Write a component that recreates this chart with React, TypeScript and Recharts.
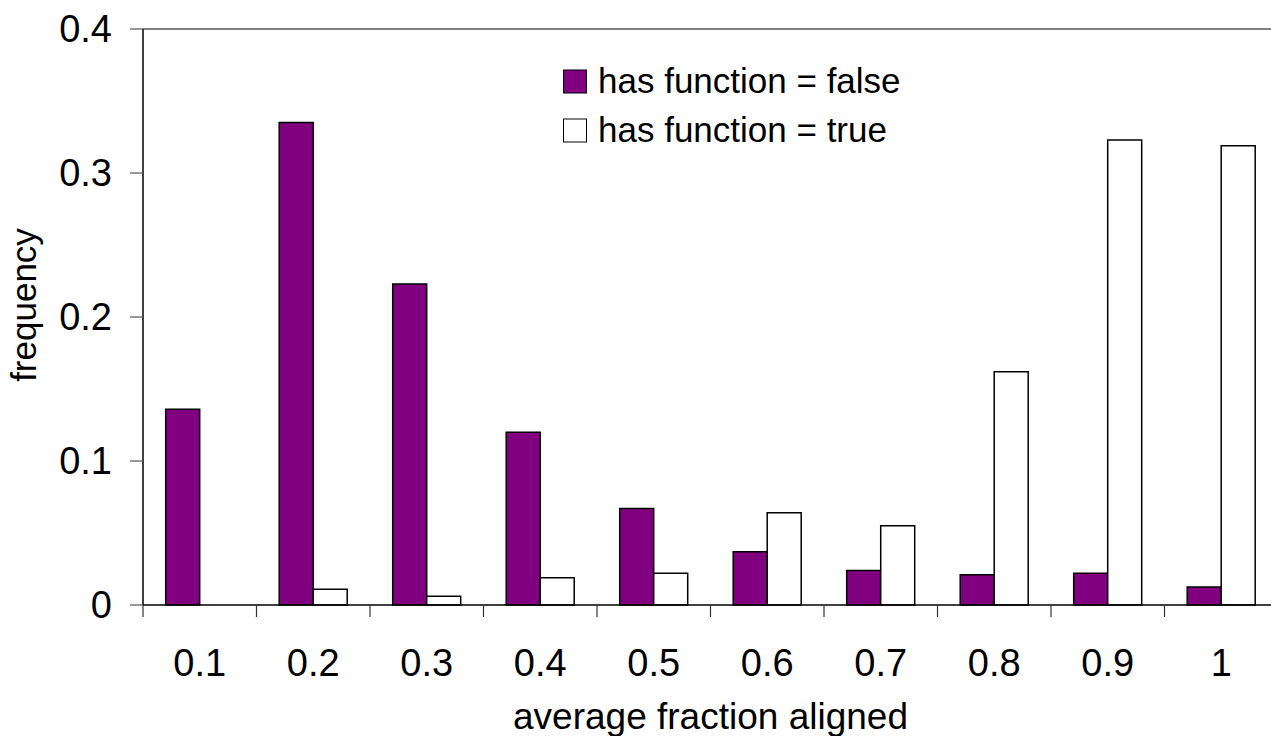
import React from "react"
import { Bar, BarChart, XAxis, YAxis, Legend, ReferenceLine, Label } from "recharts"

const categories = ["0.1", "0.2", "0.3", "0.4", "0.5", "0.6", "0.7", "0.8", "0.9", "1"]
const hasFunctionFalse = [0.136, 0.335, 0.223, 0.12, 0.067, 0.037, 0.024, 0.021, 0.022, 0.0125]
const hasFunctionTrue = [0, 0.011, 0.006, 0.019, 0.022, 0.064, 0.055, 0.162, 0.323, 0.319]
const yTicks = [0, 0.1, 0.2, 0.3, 0.4]

const data = categories.map((c, i) => ({
  bin: c,
  falseVal: hasFunctionFalse[i],
  trueVal: hasFunctionTrue[i],
}))

const FONT = "'Liberation Sans', Arial, sans-serif"
const CHART_W = 1290
const CHART_H = 736
const PLOT_LEFT = 143
const PLOT_RIGHT = 12
const HALF_BAND = (CHART_W - PLOT_LEFT - PLOT_RIGHT) / categories.length / 2

function XTick(props: any) {
  const { x, y, payload } = props
  const bx = x - HALF_BAND
  return (
    <g>
      <line x1={bx} y1={y} x2={bx} y2={y + 12} stroke="#333" strokeWidth={1.2} />
      <text x={x} y={y + 71} textAnchor="middle" fontSize={38} fontFamily={FONT} fill="#000">
        {payload.value}
      </text>
    </g>
  )
}

function LegendBox(props: any) {
  const items = props.payload || []
  return (
    <svg width={400} height={100} style={{ overflow: "visible" }}>
      {items.map((it: any, i: number) => (
        <g key={it.value}>
          <rect
            x={0.5}
            y={10 + i * 49}
            width={23}
            height={23}
            fill={it.payload?.fill ?? it.color}
            stroke="#000"
            strokeWidth={1}
          />
          <text x={35} y={33 + i * 49} fontSize={35} fontFamily={FONT} fill="#000">
            {it.value}
          </text>
        </g>
      ))}
    </svg>
  )
}

export default function App() {
  return (
    <div style={{ position: "absolute", left: 0, top: 0, width: 1271, height: 736, overflow: "hidden", background: "#fff" }}>
      <BarChart
        width={CHART_W}
        height={CHART_H}
        data={data}
        margin={{ top: 29, right: PLOT_RIGHT, left: 0, bottom: 0 }}
        barCategoryGap="20%"
        barGap={0}
      >
        <ReferenceLine y={0.4} stroke="#555" strokeWidth={1.5} />
        <XAxis
          dataKey="bin"
          height={131}
          axisLine={{ stroke: "#000", strokeWidth: 1.5 }}
          tickLine={false}
          tickSize={0}
          tickMargin={0}
          interval={0}
          tick={<XTick />}
        >
          <Label
            content={() => (
              <text x={PLOT_LEFT + (CHART_W - PLOT_LEFT - PLOT_RIGHT) / 2} y={729} textAnchor="middle" fontSize={37} fontFamily={FONT} fill="#000">
                average fraction aligned
              </text>
            )}
          />
        </XAxis>
        <YAxis
          width={PLOT_LEFT}
          domain={[0, 0.4]}
          ticks={yTicks}
          axisLine={{ stroke: "#000", strokeWidth: 1.5 }}
          tickLine={{ stroke: "#555", strokeWidth: 1.2 }}
          tickSize={13}
          tickMargin={18}
          tick={{ fill: "#000", fontSize: 38, fontFamily: FONT }}
        >
          <Label
            content={() => (
              <text transform="translate(36,305) rotate(-90)" textAnchor="middle" fontSize={35} fontFamily={FONT} fill="#000">
                frequency
              </text>
            )}
          />
        </YAxis>
        <Legend
          layout="vertical"
          align="center"
          verticalAlign="middle"
          wrapperStyle={{ left: 563, top: 60, width: 400 }}
          content={<LegendBox />}
        />
        <Bar dataKey="falseVal" name="has function = false" fill="#800080" stroke="#000" strokeWidth={1.5} isAnimationActive={false} />
        <Bar dataKey="trueVal" name="has function = true" fill="#ffffff" stroke="#000" strokeWidth={1.5} isAnimationActive={false} />
      </BarChart>
    </div>
  )
}
